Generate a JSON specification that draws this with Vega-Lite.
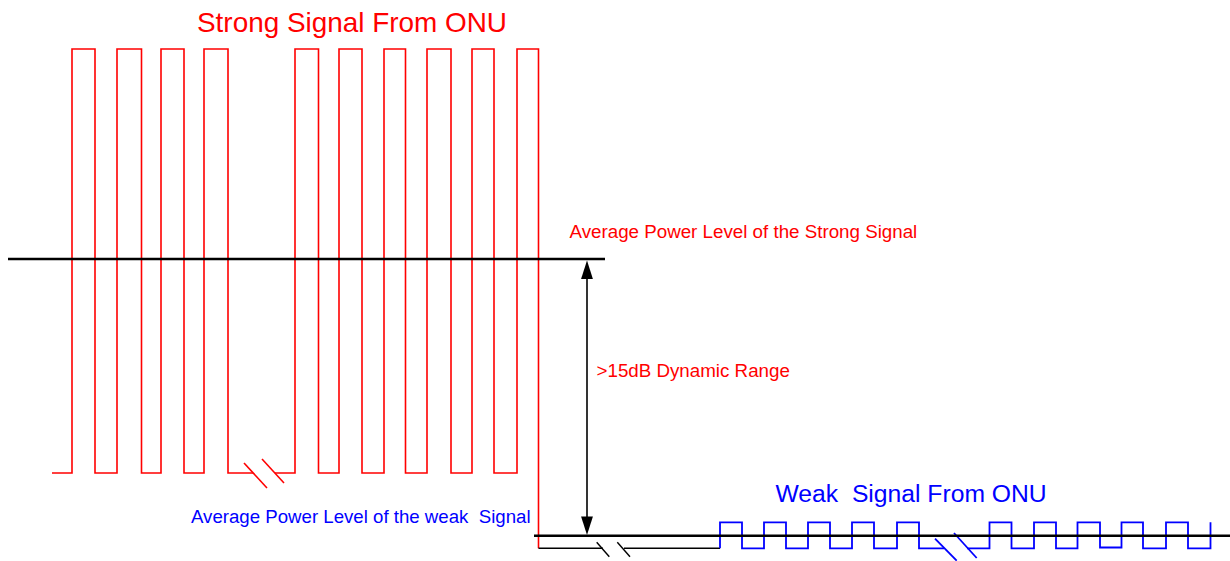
{
  "$schema": "https://vega.github.io/schema/vega-lite/v6.json",
  "width": 1230,
  "height": 561,
  "padding": 0,
  "autosize": {"type": "none"},
  "background": "white",
  "config": {"view": {"stroke": null}},
  "datasets": {
    "lines": [
      {"seg": "s1", "ord": 1, "x": 52, "y": 473, "kind": "strong"},
      {"seg": "s1", "ord": 2, "x": 72, "y": 473, "kind": "strong"},
      {"seg": "s1", "ord": 3, "x": 72, "y": 49, "kind": "strong"},
      {"seg": "s1", "ord": 4, "x": 95, "y": 49, "kind": "strong"},
      {"seg": "s1", "ord": 5, "x": 95, "y": 473, "kind": "strong"},
      {"seg": "s1", "ord": 6, "x": 117, "y": 473, "kind": "strong"},
      {"seg": "s1", "ord": 7, "x": 117, "y": 49, "kind": "strong"},
      {"seg": "s1", "ord": 8, "x": 141.5, "y": 49, "kind": "strong"},
      {"seg": "s1", "ord": 9, "x": 141.5, "y": 473, "kind": "strong"},
      {"seg": "s1", "ord": 10, "x": 161, "y": 473, "kind": "strong"},
      {"seg": "s1", "ord": 11, "x": 161, "y": 49, "kind": "strong"},
      {"seg": "s1", "ord": 12, "x": 184, "y": 49, "kind": "strong"},
      {"seg": "s1", "ord": 13, "x": 184, "y": 473, "kind": "strong"},
      {"seg": "s1", "ord": 14, "x": 204, "y": 473, "kind": "strong"},
      {"seg": "s1", "ord": 15, "x": 204, "y": 49, "kind": "strong"},
      {"seg": "s1", "ord": 16, "x": 228, "y": 49, "kind": "strong"},
      {"seg": "s1", "ord": 17, "x": 228, "y": 473, "kind": "strong"},
      {"seg": "s1", "ord": 18, "x": 253, "y": 473, "kind": "strong"},
      {"seg": "s2", "ord": 1, "x": 275, "y": 473, "kind": "strong"},
      {"seg": "s2", "ord": 2, "x": 295, "y": 473, "kind": "strong"},
      {"seg": "s2", "ord": 3, "x": 295, "y": 49, "kind": "strong"},
      {"seg": "s2", "ord": 4, "x": 318.5, "y": 49, "kind": "strong"},
      {"seg": "s2", "ord": 5, "x": 318.5, "y": 473, "kind": "strong"},
      {"seg": "s2", "ord": 6, "x": 339, "y": 473, "kind": "strong"},
      {"seg": "s2", "ord": 7, "x": 339, "y": 49, "kind": "strong"},
      {"seg": "s2", "ord": 8, "x": 362, "y": 49, "kind": "strong"},
      {"seg": "s2", "ord": 9, "x": 362, "y": 473, "kind": "strong"},
      {"seg": "s2", "ord": 10, "x": 384, "y": 473, "kind": "strong"},
      {"seg": "s2", "ord": 11, "x": 384, "y": 49, "kind": "strong"},
      {"seg": "s2", "ord": 12, "x": 405.5, "y": 49, "kind": "strong"},
      {"seg": "s2", "ord": 13, "x": 405.5, "y": 473, "kind": "strong"},
      {"seg": "s2", "ord": 14, "x": 427, "y": 473, "kind": "strong"},
      {"seg": "s2", "ord": 15, "x": 427, "y": 49, "kind": "strong"},
      {"seg": "s2", "ord": 16, "x": 451, "y": 49, "kind": "strong"},
      {"seg": "s2", "ord": 17, "x": 451, "y": 473, "kind": "strong"},
      {"seg": "s2", "ord": 18, "x": 472, "y": 473, "kind": "strong"},
      {"seg": "s2", "ord": 19, "x": 472, "y": 49, "kind": "strong"},
      {"seg": "s2", "ord": 20, "x": 494, "y": 49, "kind": "strong"},
      {"seg": "s2", "ord": 21, "x": 494, "y": 473, "kind": "strong"},
      {"seg": "s2", "ord": 22, "x": 517, "y": 473, "kind": "strong"},
      {"seg": "s2", "ord": 23, "x": 517, "y": 49, "kind": "strong"},
      {"seg": "s2", "ord": 24, "x": 538.5, "y": 49, "kind": "strong"},
      {"seg": "s2", "ord": 25, "x": 538.5, "y": 548.3, "kind": "strong"},
      {"seg": "b1", "ord": 1, "x": 244, "y": 463, "kind": "strong"},
      {"seg": "b1", "ord": 2, "x": 267, "y": 488, "kind": "strong"},
      {"seg": "b2", "ord": 1, "x": 262, "y": 459, "kind": "strong"},
      {"seg": "b2", "ord": 2, "x": 284, "y": 483, "kind": "strong"},
      {"seg": "s3", "ord": 1, "x": 538.5, "y": 548.3, "kind": "floor"},
      {"seg": "s3", "ord": 2, "x": 603, "y": 548.3, "kind": "floor"},
      {"seg": "s4", "ord": 1, "x": 624, "y": 548.3, "kind": "floor"},
      {"seg": "s4", "ord": 2, "x": 720, "y": 548.3, "kind": "floor"},
      {"seg": "b3", "ord": 1, "x": 596.7, "y": 542.3, "kind": "floor"},
      {"seg": "b3", "ord": 2, "x": 609.3, "y": 556.7, "kind": "floor"},
      {"seg": "b4", "ord": 1, "x": 617.3, "y": 542.3, "kind": "floor"},
      {"seg": "b4", "ord": 2, "x": 630, "y": 556.7, "kind": "floor"},
      {"seg": "s5", "ord": 1, "x": 720, "y": 548.3, "kind": "weak"},
      {"seg": "s5", "ord": 2, "x": 720, "y": 522.3, "kind": "weak"},
      {"seg": "s5", "ord": 3, "x": 742, "y": 522.3, "kind": "weak"},
      {"seg": "s5", "ord": 4, "x": 742, "y": 548.3, "kind": "weak"},
      {"seg": "s5", "ord": 5, "x": 764, "y": 548.3, "kind": "weak"},
      {"seg": "s5", "ord": 6, "x": 764, "y": 522.3, "kind": "weak"},
      {"seg": "s5", "ord": 7, "x": 786, "y": 522.3, "kind": "weak"},
      {"seg": "s5", "ord": 8, "x": 786, "y": 548.3, "kind": "weak"},
      {"seg": "s5", "ord": 9, "x": 808, "y": 548.3, "kind": "weak"},
      {"seg": "s5", "ord": 10, "x": 808, "y": 522.3, "kind": "weak"},
      {"seg": "s5", "ord": 11, "x": 830, "y": 522.3, "kind": "weak"},
      {"seg": "s5", "ord": 12, "x": 830, "y": 548.3, "kind": "weak"},
      {"seg": "s5", "ord": 13, "x": 852, "y": 548.3, "kind": "weak"},
      {"seg": "s5", "ord": 14, "x": 852, "y": 522.3, "kind": "weak"},
      {"seg": "s5", "ord": 15, "x": 874, "y": 522.3, "kind": "weak"},
      {"seg": "s5", "ord": 16, "x": 874, "y": 548.3, "kind": "weak"},
      {"seg": "s5", "ord": 17, "x": 897, "y": 548.3, "kind": "weak"},
      {"seg": "s5", "ord": 18, "x": 897, "y": 522.3, "kind": "weak"},
      {"seg": "s5", "ord": 19, "x": 919, "y": 522.3, "kind": "weak"},
      {"seg": "s5", "ord": 20, "x": 919, "y": 548.3, "kind": "weak"},
      {"seg": "s5", "ord": 21, "x": 944, "y": 548.3, "kind": "weak"},
      {"seg": "s6", "ord": 1, "x": 967, "y": 548.3, "kind": "weak"},
      {"seg": "s6", "ord": 2, "x": 989.5, "y": 548.3, "kind": "weak"},
      {"seg": "s6", "ord": 3, "x": 989.5, "y": 522.3, "kind": "weak"},
      {"seg": "s6", "ord": 4, "x": 1011.5, "y": 522.3, "kind": "weak"},
      {"seg": "s6", "ord": 5, "x": 1011.5, "y": 548.3, "kind": "weak"},
      {"seg": "s6", "ord": 6, "x": 1034, "y": 548.3, "kind": "weak"},
      {"seg": "s6", "ord": 7, "x": 1034, "y": 522.3, "kind": "weak"},
      {"seg": "s6", "ord": 8, "x": 1056, "y": 522.3, "kind": "weak"},
      {"seg": "s6", "ord": 9, "x": 1056, "y": 548.3, "kind": "weak"},
      {"seg": "s6", "ord": 10, "x": 1077.5, "y": 548.3, "kind": "weak"},
      {"seg": "s6", "ord": 11, "x": 1077.5, "y": 522.3, "kind": "weak"},
      {"seg": "s6", "ord": 12, "x": 1100, "y": 522.3, "kind": "weak"},
      {"seg": "s6", "ord": 13, "x": 1100, "y": 547.5, "kind": "weak"},
      {"seg": "s6", "ord": 14, "x": 1121.5, "y": 547.5, "kind": "weak"},
      {"seg": "s6", "ord": 15, "x": 1121.5, "y": 522.3, "kind": "weak"},
      {"seg": "s6", "ord": 16, "x": 1143, "y": 522.3, "kind": "weak"},
      {"seg": "s6", "ord": 17, "x": 1143, "y": 548.3, "kind": "weak"},
      {"seg": "s6", "ord": 18, "x": 1166, "y": 548.3, "kind": "weak"},
      {"seg": "s6", "ord": 19, "x": 1166, "y": 522.3, "kind": "weak"},
      {"seg": "s6", "ord": 20, "x": 1188, "y": 522.3, "kind": "weak"},
      {"seg": "s6", "ord": 21, "x": 1188, "y": 548.3, "kind": "weak"},
      {"seg": "s6", "ord": 22, "x": 1210.5, "y": 548.3, "kind": "weak"},
      {"seg": "s6", "ord": 23, "x": 1210.5, "y": 522.3, "kind": "weak"},
      {"seg": "b5", "ord": 1, "x": 935, "y": 538.7, "kind": "weak"},
      {"seg": "b5", "ord": 2, "x": 956.7, "y": 560.7, "kind": "weak"},
      {"seg": "b6", "ord": 1, "x": 954, "y": 533, "kind": "weak"},
      {"seg": "b6", "ord": 2, "x": 976.7, "y": 558, "kind": "weak"},
      {"seg": "s7", "ord": 1, "x": 8, "y": 259, "kind": "level"},
      {"seg": "s7", "ord": 2, "x": 605, "y": 259, "kind": "level"},
      {"seg": "s8", "ord": 1, "x": 534, "y": 535.7, "kind": "level"},
      {"seg": "s8", "ord": 2, "x": 1230, "y": 535.7, "kind": "level"},
      {"seg": "s9", "ord": 1, "x": 587, "y": 272, "kind": "arrow"},
      {"seg": "s9", "ord": 2, "x": 587, "y": 524, "kind": "arrow"}
    ],
    "heads": [
      {"x": 587, "y": 260.5, "dir": "up"},
      {"x": 587, "y": 535, "dir": "down"}
    ],
    "labels": [
      {"label": "Strong Signal From ONU", "x": 197, "y": 31.7, "kind": "title", "side": "strong"},
      {"label": "Average Power Level of the Strong Signal", "x": 569.5, "y": 238.3, "kind": "note", "side": "strong"},
      {"label": ">15dB Dynamic Range", "x": 596.5, "y": 376.7, "kind": "note", "side": "strong"},
      {"label": "Weak \u00a0Signal From ONU", "x": 775.5, "y": 502, "kind": "subtitle", "side": "weak"},
      {"label": "Average Power Level of the weak \u00a0Signal", "x": 191, "y": 523.3, "kind": "note", "side": "weak"}
    ]
  },
  "layer": [
    {
      "data": {"name": "lines"},
      "mark": {"type": "line", "strokeCap": "butt", "strokeJoin": "miter"},
      "encoding": {
        "x": {"field": "x", "type": "quantitative", "scale": {"domain": [0, 1230], "nice": false, "zero": false}, "axis": null},
        "y": {"field": "y", "type": "quantitative", "scale": {"domain": [0, 561], "nice": false, "zero": false, "reverse": true}, "axis": null},
        "detail": {"field": "seg", "type": "nominal"},
        "order": {"field": "ord", "type": "quantitative"},
        "color": {"field": "kind", "type": "nominal", "scale": {"domain": ["strong", "weak", "floor", "level", "arrow"], "range": ["#ff0000", "#0000ff", "#000000", "#000000", "#000000"]}, "legend": null},
        "strokeWidth": {"field": "kind", "type": "nominal", "scale": {"type": "ordinal", "domain": ["strong", "weak", "floor", "level", "arrow"], "range": [1.6, 1.8, 1.4, 2.5, 1.6]}, "legend": null}
      }
    },
    {
      "data": {"name": "heads"},
      "mark": {"type": "point", "filled": true, "opacity": 1, "color": "#000000", "strokeWidth": 0},
      "encoding": {
        "x": {"field": "x", "type": "quantitative", "scale": {"domain": [0, 1230], "nice": false, "zero": false}, "axis": null},
        "y": {"field": "y", "type": "quantitative", "scale": {"domain": [0, 561], "nice": false, "zero": false, "reverse": true}, "axis": null},
        "shape": {"field": "dir", "type": "nominal", "scale": {"domain": ["up", "down"], "range": ["M0,0L-0.64,2L0.64,2Z", "M0,0L-0.64,-2L0.64,-2Z"]}, "legend": null},
        "size": {"value": 342}
      }
    },
    {
      "data": {"name": "labels"},
      "transform": [{"filter": "datum.kind === 'title'"}],
      "mark": {"type": "text", "align": "left", "baseline": "alphabetic", "font": "Liberation Sans", "fontSize": 27.9, "color": "#ff0000"},
      "encoding": {
        "x": {"field": "x", "type": "quantitative", "scale": {"domain": [0, 1230], "nice": false, "zero": false}, "axis": null},
        "y": {"field": "y", "type": "quantitative", "scale": {"domain": [0, 561], "nice": false, "zero": false, "reverse": true}, "axis": null},
        "text": {"field": "label", "type": "nominal"}
      }
    },
    {
      "data": {"name": "labels"},
      "transform": [{"filter": "datum.kind === 'subtitle'"}],
      "mark": {"type": "text", "align": "left", "baseline": "alphabetic", "font": "Liberation Sans", "fontSize": 24.7, "color": "#0000ff"},
      "encoding": {
        "x": {"field": "x", "type": "quantitative", "scale": {"domain": [0, 1230], "nice": false, "zero": false}, "axis": null},
        "y": {"field": "y", "type": "quantitative", "scale": {"domain": [0, 561], "nice": false, "zero": false, "reverse": true}, "axis": null},
        "text": {"field": "label", "type": "nominal"}
      }
    },
    {
      "data": {"name": "labels"},
      "transform": [{"filter": "datum.kind === 'note' && datum.side === 'strong'"}],
      "mark": {"type": "text", "align": "left", "baseline": "alphabetic", "font": "Liberation Sans", "fontSize": 18.75, "color": "#ff0000"},
      "encoding": {
        "x": {"field": "x", "type": "quantitative", "scale": {"domain": [0, 1230], "nice": false, "zero": false}, "axis": null},
        "y": {"field": "y", "type": "quantitative", "scale": {"domain": [0, 561], "nice": false, "zero": false, "reverse": true}, "axis": null},
        "text": {"field": "label", "type": "nominal"}
      }
    },
    {
      "data": {"name": "labels"},
      "transform": [{"filter": "datum.kind === 'note' && datum.side === 'weak'"}],
      "mark": {"type": "text", "align": "left", "baseline": "alphabetic", "font": "Liberation Sans", "fontSize": 18.65, "color": "#0000ff"},
      "encoding": {
        "x": {"field": "x", "type": "quantitative", "scale": {"domain": [0, 1230], "nice": false, "zero": false}, "axis": null},
        "y": {"field": "y", "type": "quantitative", "scale": {"domain": [0, 561], "nice": false, "zero": false, "reverse": true}, "axis": null},
        "text": {"field": "label", "type": "nominal"}
      }
    }
  ]
}
